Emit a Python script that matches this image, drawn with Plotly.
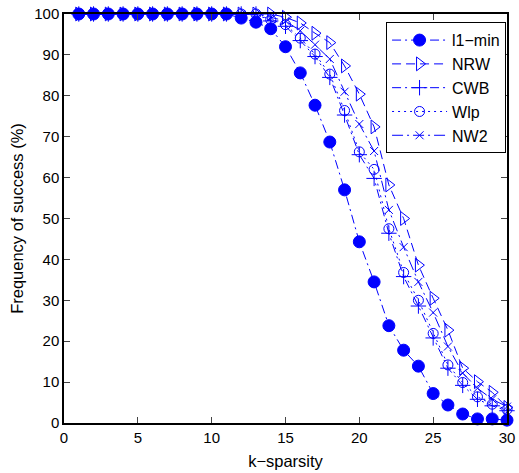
import plotly.graph_objects as go

k = list(range(1, 31))

l1_min = [100]*11 + [99, 98, 96.4, 92, 85.6, 77.7, 68.7, 57, 44.3, 34.5, 23.8, 17.8, 13.9, 7.2, 4.4, 2.2, 1.0, 1.0, 0.7]
nrw = [100]*14 + [99.2, 97.8, 95.3, 93, 87.3, 80.4, 72.4, 58.2, 50, 38.6, 30.5, 22.7, 13.4, 10.1, 7.5, 3.8]
cwb = [100]*13 + [98.3, 97, 93.5, 89.6, 84.5, 75.3, 65.6, 59.8, 46.4, 35.8, 28.6, 20.8, 13.4, 9.2, 5.8, 4.2, 3.0]
wlp = [100]*13 + [98.6, 97.4, 94.1, 90.2, 85.3, 76.4, 66.3, 62, 47.5, 36.8, 30, 21.9, 14.2, 9.9, 6.4, 4.6, 3.3]
nw2 = [100]*13 + [99.2, 98.3, 95.9, 92.5, 89, 81, 73.1, 66.5, 52.1, 43, 34.5, 27, 18.7, 12.2, 8.5, 5.8, 4.0]

x_ticks = [0, 5, 10, 15, 20, 25, 30]
y_ticks = [0, 10, 20, 30, 40, 50, 60, 70, 80, 90, 100]

blue = "#0000ff"
series = [
    ("l1\u2212min", l1_min, "9px,4px,2px,4px", "circle", 12),
    ("NRW", nrw, "9px,5px", "triangle-right-open", 12),
    ("CWB", cwb, "9px,4px,2px,4px", "cross-thin-open", 11),
    ("Wlp", wlp, "2px,4px", "circle-open", 10),
    ("NW2", nw2, "11px,4px,2px,4px", "x-thin-open", 8),
]

fig = go.Figure()
for name, ys, dash, sym, size in series:
    fig.add_trace(go.Scatter(
        x=k, y=ys, name=name, mode="lines+markers",
        line=dict(color=blue, width=1, dash=dash),
        marker=dict(symbol=sym, size=size, color=blue, line=dict(color=blue, width=1)),
        cliponaxis=False,
    ))

font = "Liberation Sans, Arial, sans-serif"
grid = dict(showgrid=True, gridcolor="#555", griddash="1px,6.4px", gridwidth=1)
fig.update_layout(
    width=519, height=473,
    margin=dict(l=63.5, r=12, t=14, b=50, autoexpand=False),
    paper_bgcolor="white", plot_bgcolor="white",
    font=dict(family=font, size=16, color="black"),
    legend=dict(
        x=0.727, y=0.98, xanchor="left", yanchor="top",
        bgcolor="white", bordercolor="black", borderwidth=1,
        itemwidth=55, font=dict(size=16, family=font),
        tracegroupgap=0,
    ),
    xaxis=dict(
        range=[0, 30], tickvals=x_ticks, ticks="inside", ticklen=6,
        showline=True, linecolor="black", linewidth=1.5, mirror="ticks",
        zeroline=False, automargin=False,
        title=dict(text="k\u2212sparsity", standoff=11, font=dict(size=16.5)),
        tickfont=dict(size=15),
    ),
    yaxis=dict(
        range=[0, 100], tickvals=y_ticks, ticks="inside", ticklen=6,
        showline=True, linecolor="black", linewidth=1.5, mirror="ticks",
        zeroline=False, automargin=False,
        title=dict(text="Frequency of success (%)", standoff=6, font=dict(size=16.5)),
        tickfont=dict(size=15),
    ),
)

fig.write_html("out.html", config={"displayModeBar": False},
               post_script="document.body.style.margin='0px';")
